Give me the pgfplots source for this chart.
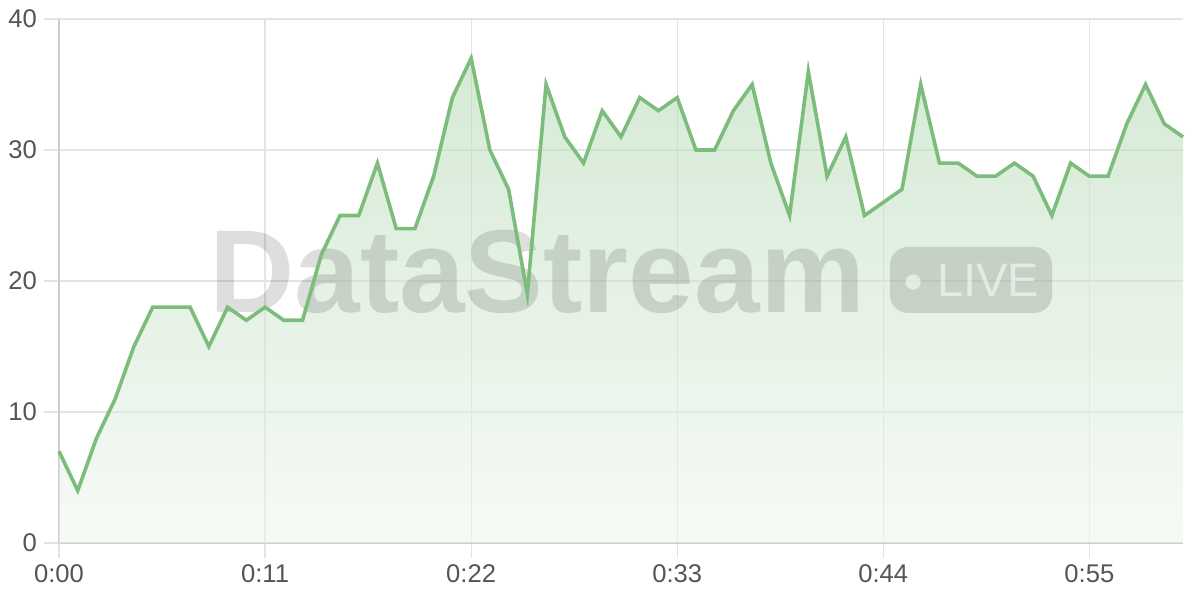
\documentclass[border=0pt]{standalone}
\usepackage{pgfplots}
\usepackage{pgfplotstable}
\pgfplotsset{compat=1.18}
\usepackage{fontspec}
\setmainfont{Liberation Sans}

\definecolor{linegreen}{RGB}{124,189,124}
\definecolor{filltop}{RGB}{178,216,178}
\definecolor{fillbot}{RGB}{238,246,238}
\definecolor{gridc}{RGB}{228,228,228}
\definecolor{axisc}{RGB}{205,205,205}
\definecolor{labc}{RGB}{85,85,85}

% viewers per second
\pgfplotstableread{
t v
0 7
1 4
2 8
3 11
4 15
5 18
6 18
7 18
8 15
9 18
10 17
11 18
12 17
13 17
14 22
15 25
16 25
17 29
18 24
19 24
20 28
21 34
22 37
23 30
24 27
25 19
26 35
27 31
28 29
29 33
30 31
31 34
32 33
33 34
34 30
35 30
36 33
37 35
38 29
39 25
40 36
41 28
42 31
43 25
44 26
45 27
46 35
47 29
48 29
49 28
50 28
51 29
52 28
53 25
54 29
55 28
56 28
57 32
58 35
59 32
60 31
}\viewers

\begin{document}
\begin{tikzpicture}
\useasboundingbox (-29.5pt,-28.5pt) rectangle (570.5pt,271.5pt);
\begin{axis}[
  at={(0,0)}, anchor=south west,
  scale only axis, width=562pt, height=262pt,
  xmin=0, xmax=60, ymin=0, ymax=40,
  xtick={0,11,22,33,44,55},
  xticklabels={0:00,0:11,0:22,0:33,0:44,0:55},
  ytick={0,10,20,30,40},
  grid=major,
  major grid style={gridc, line width=0.6pt},
  axis x line*=bottom, axis y line*=left,
  axis line style={axisc, line width=0.8pt},
  tick align=outside, major tick length=7.5pt,
  tick style={gridc, line width=0.6pt},
  ticklabel style={font=\fontsize{12.8}{14}\selectfont, text=labc},
  /pgf/number format/assume math mode=true,
  clip=false,
]
\addplot[draw=none, top color=filltop, bottom color=fillbot, fill opacity=0.55]
  table[x=t, y=v] {\viewers} \closedcycle;

% watermark
\node[anchor=base west, inner sep=0, text=black, text opacity=0.13,
  font=\bfseries\fontsize{59}{60}\selectfont] at (axis cs:8.0,17.56) {DataStream};
\fill[black, fill opacity=0.13, rounded corners=9pt]
  (axis cs:44.36,17.56) rectangle (axis cs:53.01,22.6);
\fill[white, fill opacity=0.55] (axis cs:45.59,19.92) circle (3.8pt);
\node[anchor=base west, inner sep=0, text=white, text opacity=0.55,
  font=\fontsize{23.5}{24}\selectfont] at (axis cs:46.85,18.78) {LIVE};

\addplot[linegreen, line width=1.8pt, line join=miter, mark=none]
  table[x=t, y=v] {\viewers};
\end{axis}
\end{tikzpicture}
\end{document}
